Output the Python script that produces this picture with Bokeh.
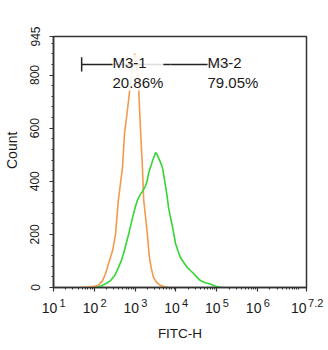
import numpy as np
from bokeh.plotting import figure
from bokeh.models import FixedTicker, Label, CustomJSTickFormatter, LogAxis
from bokeh.embed import file_html
from bokeh.resources import INLINE

# ---- data (x as log10 of FITC-H intensity) ----
orange_log = [1.66, 1.80, 1.90, 2.00, 2.10, 2.20, 2.27, 2.35, 2.45, 2.52, 2.59, 2.64, 2.69,
              2.74, 2.79, 2.84, 2.90, 2.96, 2.99, 3.02, 3.04, 3.09, 3.13, 3.18, 3.21,
              3.26, 3.30, 3.35, 3.40, 3.45, 3.53, 3.62, 3.72, 3.82]
orange_count = [0, 1, 3, 5, 8, 25, 50, 90, 140, 200, 330, 390, 450,
                580, 640, 705, 790, 860, 880, 865, 830, 740, 600, 450, 330,
                260, 200, 113, 70, 38, 18, 8, 3, 0]

green_log = [2.03, 2.15, 2.28, 2.40, 2.50, 2.59, 2.66, 2.72, 2.78, 2.84, 2.89, 2.94, 3.00,
             3.06, 3.12, 3.18, 3.22, 3.26, 3.30, 3.33, 3.38, 3.43, 3.47, 3.50, 3.54,
             3.57, 3.62, 3.67, 3.71, 3.75, 3.79, 3.82, 3.87, 3.92, 3.96, 3.99, 4.05,
             4.11, 4.20, 4.28, 4.36, 4.43, 4.52, 4.60, 4.70, 4.80, 4.90, 4.97, 5.06, 5.14]
green_count = [0, 5, 14, 26, 45, 75, 100, 130, 165, 200, 232, 265, 300,
               330, 348, 362, 372, 385, 405, 430, 455, 478, 495, 508, 500,
               490, 472, 452, 415, 377, 338, 300, 262, 226, 192, 166, 138,
               113, 92, 75, 63, 53, 38, 26, 19, 15, 9, 5, 2, 0]

gate_names = ["M3-1", "M3-2"]
gate_pct = ["20.86%", "79.05%"]
gate_lo = [1.69, 3.87]
gate_hi = [3.87, 5.30]
gate_level = 840
gate_label_log = [2.446, 4.774]

x_tick_exp = [1, 2, 3, 4, 5, 6, 7.2]
x_tick_text = ["1", "2", "3", "4", "5", "6", "7.2"]
y_ticks = [0, 200, 400, 600, 800, 945]

FONT = "Liberation Sans"
AX = "#333333"
TXT = "#1a1a1a"
NB = "\u00a0"

p = figure(width=328, height=350, x_axis_type="log",
           x_range=(10 ** 1, 10 ** 7.2), y_range=(0, 945),
           output_backend="svg", toolbar_location=None,
           min_border_left=53, min_border_right=22,
           min_border_top=36, min_border_bottom=63,
           y_axis_label=NB * 6 + "Count")
p.xgrid.visible = False
p.ygrid.visible = False
p.outline_line_color = AX
p.outline_line_width = 1.5
p.outline_line_alpha = 1.0
p.background_fill_color = "white"
p.border_fill_color = "white"

# "10" and superscript exponent are drawn on two stacked axes
base_w = 2 * 0.556 * 14
exp_w = [sum(0.278 * 11 if c == "." else 0.556 * 11 for c in t) for t in x_tick_text]
labels_base = []
for w in exp_w:
    shift = (base_w + 2 + w) / 2 - base_w / 2
    labels_base.append("10" + NB * int(round(2 * shift / (0.278 * 14))))
labels_exp = [NB * 6 + t for t in x_tick_text]

fmt_code = """
    const e = Math.log10(tick);
    let best = 0;
    for (let i = 0; i < exps.length; i++) {
        if (Math.abs(exps[i] - e) < Math.abs(exps[best] - e)) best = i;
    }
    return labels[best];
"""
xmaj = [10 ** e for e in x_tick_exp]
xmin = [m * 10 ** k for k in range(1, 7) for m in range(2, 10)] + [10 ** 7]

axA = p.xaxis[0]
axA.ticker = FixedTicker(ticks=xmaj, minor_ticks=xmin)
axA.formatter = CustomJSTickFormatter(args=dict(exps=x_tick_exp, labels=labels_exp), code=fmt_code)
axA.major_label_text_font_size = "11px"
axA.major_label_standoff = 5

axB = LogAxis(ticker=FixedTicker(ticks=xmaj, minor_ticks=[]),
              formatter=CustomJSTickFormatter(args=dict(exps=x_tick_exp, labels=labels_base), code=fmt_code),
              axis_label="FITC-H")
axB.axis_line_color = None
axB.major_tick_line_color = None
axB.minor_tick_line_color = None
axB.major_tick_out = 0
axB.major_tick_in = 0
axB.minor_tick_out = 0
axB.minor_tick_in = 0
axB.major_label_text_font_size = "14px"
axB.major_label_standoff = -12
axB.axis_label_text_font_size = "13.5px"
axB.axis_label_standoff = 7

p.yaxis.ticker = FixedTicker(ticks=y_ticks, minor_ticks=list(range(0, 945, 40)))
for ax in (axA, p.yaxis[0]):
    ax.axis_line_color = AX
    ax.axis_line_width = 1.5
    ax.major_tick_line_color = AX
    ax.minor_tick_line_color = AX
    ax.major_tick_line_width = 1.2
    ax.major_tick_out = 4
    ax.major_tick_in = 0
    ax.minor_tick_out = 2
    ax.minor_tick_in = 0
for ax in (axA, axB, p.yaxis[0]):
    ax.axis_label_text_font = FONT
    ax.axis_label_text_font_style = "normal"
    ax.axis_label_text_color = TXT
    ax.major_label_text_font = FONT
    ax.major_label_text_color = TXT
p.add_layout(axB, "below")

p.yaxis.major_label_orientation = "vertical"
p.yaxis.major_label_text_font_size = "12px"
p.yaxis.major_label_standoff = 10
p.yaxis.axis_label_text_font_size = "14px"
p.yaxis.axis_label_standoff = 8

# curves
p.line(10 ** np.array(orange_log), orange_count, line_color="#F39A4C", line_width=1.6)
p.line(10 ** np.array(green_log), green_count, line_color="#33D633", line_width=1.6)

# gates
for lo, hi in zip(gate_lo, gate_hi):
    p.line([10 ** lo, 10 ** hi], [gate_level, gate_level], line_color="#222222", line_width=1.5)
p.segment(x0=[10 ** gate_lo[0]], y0=[gate_level - 27], x1=[10 ** gate_lo[0]], y1=[gate_level + 27],
          line_color="#222222", line_width=1.5)

for name, pct, lx in zip(gate_names, gate_pct, gate_label_log):
    p.add_layout(Label(x=10 ** lx, y=gate_level, y_offset=10, text=name + "\n" + pct,
                       text_font=FONT, text_font_size="15px", text_color=TXT,
                       text_align="left", text_baseline="top", text_line_height=1.13,
                       background_fill_color="white", background_fill_alpha=0.85))

open("out.html", "w").write(file_html(p, INLINE))
